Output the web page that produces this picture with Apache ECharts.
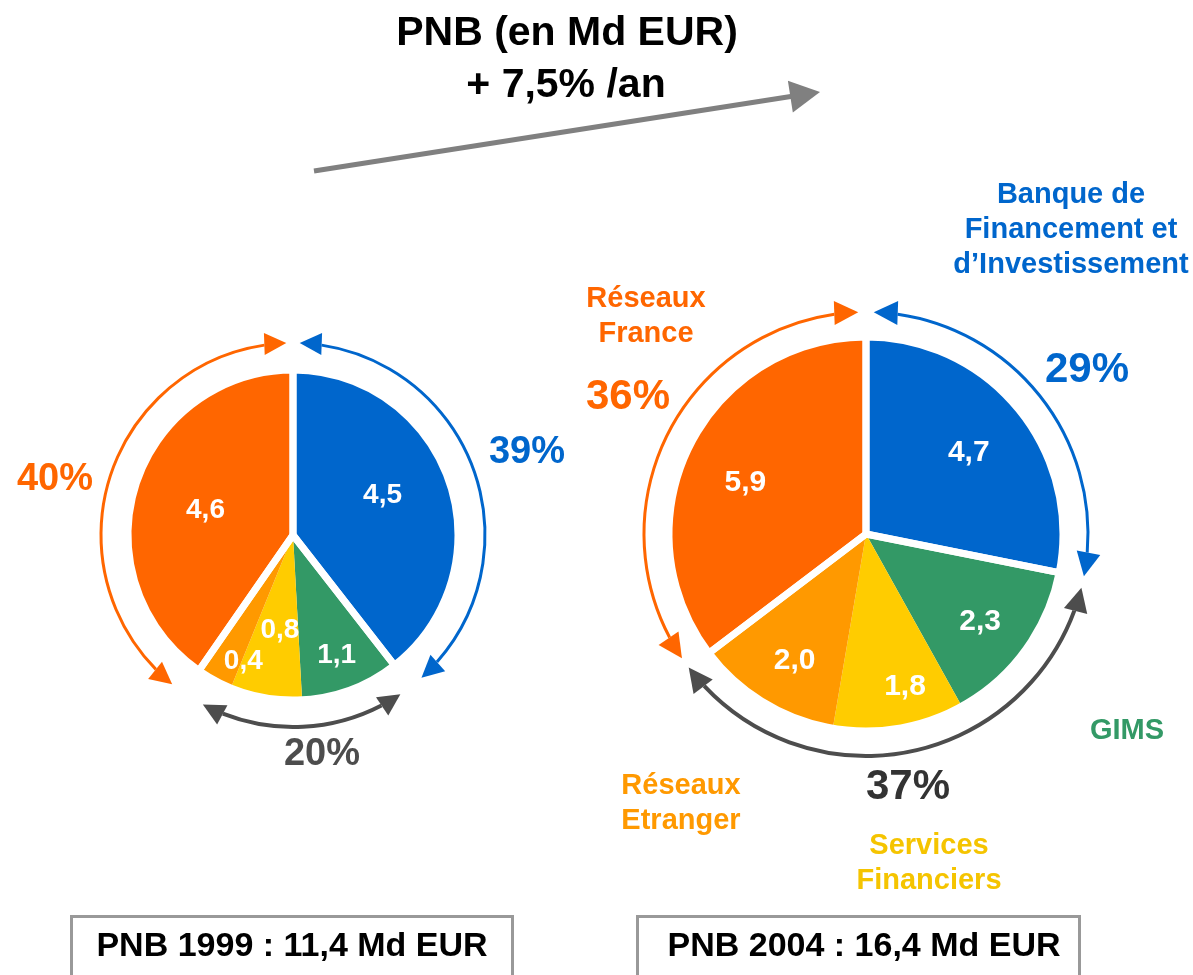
<!DOCTYPE html>
<html>
<head>
<meta charset="utf-8">
<script src="https://cdn.jsdelivr.net/npm/echarts@6/dist/echarts.min.js"></script>
<style>
html,body{margin:0;padding:0;background:#ffffff;}
#chart{width:1193px;height:975px;}
</style>
</head>
<body>
<div id="chart"></div>
<script>
// ---------------- DATA ----------------
const segments = ["Banque de Financement et d’Investissement", "GIMS", "Services Financiers", "Réseaux Etranger", "Réseaux France"];
const segmentLabels = ["Banque de\nFinancement et\nd’Investissement", "GIMS", "Services\nFinanciers", "Réseaux\nEtranger", "Réseaux\nFrance"];
const values1999 = [4.5, 1.1, 0.8, 0.4, 4.6];
const values2004 = [4.7, 2.3, 1.8, 2.0, 5.9];
const groupMembers = [[0], [1, 2, 3], [4]];
const groupShares1999 = ["39%", "20%", "40%"];
const groupShares2004 = ["29%", "37%", "36%"];
const years = ["1999", "2004"];
const totals = ["11,4", "16,4"];
const titleLines = ["PNB (en Md EUR)", "+ 7,5% /an"];

// ---------------- STYLE / LAYOUT ----------------
const FONT = '"Liberation Sans", Arial, Helvetica, sans-serif';
const segColors = ["#0066CC", "#339966", "#FFCC00", "#FF9900", "#FF6600"];
const groupColors = ["#0066CC", "#4D4D4D", "#FF6600"];
const pctColors = [["#0066CC", "#4D4D4D", "#FF6600"], ["#0066CC", "#333333", "#FF6600"]];
const segTextColors = ["#0066CC", "#339966", "#F5C400", "#FF9900", "#FF6600"];

const layout = [
  { cx: 293, cy: 535, r: 165, arcR: 192, valFont: 28, pctFont: 38,
    valueR: [98, 128, 96, 136, 91], valueShift: [-5, 0.6, -1.6, -7, -1.4],
    arcs: [[2, 138], [146, 208], [219, 358]],
    pctPos: [[527, 453], [322, 755], [55, 480]],
    box: [71.5, 916.5, 441, 90], boxText: [292, 947] },
  { cx: 866, cy: 534, r: 197, arcR: 222, valFont: 30, pctFont: 42,
    valueR: [131, 144, 158, 145, 131], valueShift: [1, 1.5, -4.6, -1.8, -3.5],
    arcs: [[2, 101], [104, 233], [236, 358]],
    pctPos: [[1087, 370], [908, 787], [628, 397]],
    box: [637.5, 916.5, 442, 90], boxText: [864, 947] }
];
const segLabelPos = [[1071, 230], [1127, 731], [929, 863], [681, 803], [646, 316]];

const fmt = v => v.toFixed(1).replace('.', ',');
const allValues = [values1999, values2004];
const allShares = [groupShares1999, groupShares2004];

const series = [];
const graphics = [];

function pt(cx, cy, R, deg) {
  const t = deg * Math.PI / 180;
  return [cx + R * Math.sin(t), cy - R * Math.cos(t)];
}
function arrowHead(cx, cy, R, deg, dir, len, hw, color) {
  const t = deg * Math.PI / 180;
  const tip = pt(cx, cy, R, deg);
  const tx = Math.cos(t) * dir, ty = Math.sin(t) * dir;
  const bx = tip[0] - len * tx, by = tip[1] - len * ty;
  const nx = Math.sin(t), ny = -Math.cos(t);
  return { type: 'polygon', silent: true, z: 10,
    shape: { points: [tip, [bx + hw * nx, by + hw * ny], [bx - hw * nx, by - hw * ny]] },
    style: { fill: color } };
}
function text(x, y, str, color, size, extra) {
  return { type: 'text', x: x, y: y, silent: true, z: 20,
    style: Object.assign({ text: str, fill: color, font: 'bold ' + size + 'px ' + FONT,
      align: 'center', verticalAlign: 'middle', lineHeight: Math.round(size * 1.25) }, extra || {}) };
}
const shadow = { shadowColor: 'rgba(0,0,0,0.35)', shadowBlur: 2, shadowOffsetX: 2, shadowOffsetY: 2 };

layout.forEach((L, i) => {
  const vals = allValues[i];
  const center = [L.cx, L.cy];
  // colored slices
  series.push({
    type: 'pie', center: center, radius: [0, L.r], startAngle: 90, clockwise: true,
    silent: true, animation: false, z: 2,
    label: { show: false }, labelLine: { show: false },
    data: vals.map((v, k) => ({ name: segments[k], value: v, itemStyle: { color: segColors[k], borderWidth: 0 } }))
  });
  // white separators between business groups
  series.push({
    type: 'pie', center: center, radius: [0, L.r], startAngle: 90, clockwise: true,
    silent: true, animation: false, z: 3, label: { show: false }, labelLine: { show: false },
    data: groupMembers.map((m, g) => ({ name: 'g' + g, value: m.reduce((s, k) => s + vals[k], 0),
      itemStyle: { color: 'rgba(0,0,0,0)', borderColor: '#ffffff', borderWidth: 7 } }))
  });
  // value labels (transparent overlay of the same slices)
  series.push({
    type: 'pie', center: center, radius: [0, L.r], startAngle: 90, clockwise: true,
    silent: true, animation: false, avoidLabelOverlap: false, z: 4,
    labelLine: { show: false },
    itemStyle: { color: 'rgba(0,0,0,0)', borderWidth: 0 },
    label: { show: true, position: 'inside', color: '#ffffff', fontWeight: 'bold',
      fontSize: L.valFont, fontFamily: FONT, formatter: p => fmt(p.value) },
    labelLayout: function (p) {
      const lx = p.labelRect.x + p.labelRect.width / 2;
      const ly = p.labelRect.y + p.labelRect.height / 2;
      const ang = Math.atan2(lx - L.cx, -(ly - L.cy)) + L.valueShift[p.dataIndex] * Math.PI / 180;
      const rr = L.valueR[p.dataIndex];
      return { x: L.cx + rr * Math.sin(ang), y: L.cy - rr * Math.cos(ang), hideOverlap: false };
    },
    data: vals.map((v, k) => ({ name: segments[k], value: v }))
  });
  // arcs with arrows + group shares
  L.arcs.forEach((a, g) => {
    const color = groupColors[g];
    const len = i === 0 ? 22 : 24, hw = i === 0 ? 11 : 12;
    const lw = g === 1 ? 4 : 3;
    const dA = len / L.arcR * 180 / Math.PI;
    const s = (a[0] + dA - 90) * Math.PI / 180;
    const e = (a[1] - dA - 90) * Math.PI / 180;
    graphics.push({ type: 'arc', silent: true, z: 9,
      shape: { cx: L.cx, cy: L.cy, r: L.arcR, startAngle: s, endAngle: e, clockwise: true },
      style: { stroke: color, lineWidth: lw, fill: 'none' } });
    graphics.push(arrowHead(L.cx, L.cy, L.arcR, a[0], -1, len, hw, color));
    graphics.push(arrowHead(L.cx, L.cy, L.arcR, a[1], 1, len, hw, color));
    graphics.push(text(L.pctPos[g][0], L.pctPos[g][1], allShares[i][g], pctColors[i][g], L.pctFont));
  });
  // total boxes
  graphics.push({ type: 'rect', silent: true, z: 9,
    shape: { x: L.box[0], y: L.box[1], width: L.box[2], height: L.box[3] },
    style: { stroke: '#999999', lineWidth: 3, fill: 'none' } });
  graphics.push(text(L.boxText[0], L.boxText[1], 'PNB ' + years[i] + ' : ' + totals[i] + ' Md EUR', '#000000', 34, shadow));
});

// segment names next to the 2004 pie
segmentLabels.forEach((s, k) => {
  graphics.push(text(segLabelPos[k][0], segLabelPos[k][1], s, segTextColors[k], 29, { lineHeight: 35 }));
});

// title and growth arrow
graphics.push(text(567, 34, titleLines[0], '#000000', 41, shadow));
graphics.push(text(566, 86, titleLines[1], '#000000', 41, shadow));
(function () {
  const x1 = 314, y1 = 171, x2 = 820, y2 = 92;
  const dx = x2 - x1, dy = y2 - y1, d = Math.hypot(dx, dy);
  const ux = dx / d, uy = dy / d, len = 30, hw = 16;
  const bx = x2 - len * ux, by = y2 - len * uy;
  graphics.push({ type: 'line', silent: true, shape: { x1: x1, y1: y1, x2: bx + ux * 2, y2: by + uy * 2 },
    style: { stroke: '#808080', lineWidth: 5 } });
  graphics.push({ type: 'polygon', silent: true,
    shape: { points: [[x2, y2], [bx - uy * hw, by + ux * hw], [bx + uy * hw, by - ux * hw]] },
    style: { fill: '#808080' } });
})();

const chart = echarts.init(document.getElementById('chart'), null, { renderer: 'canvas' });
chart.setOption({
  backgroundColor: '#ffffff',
  animation: false,
  series: series,
  graphic: { elements: graphics }
});
</script>
</body>
</html>
